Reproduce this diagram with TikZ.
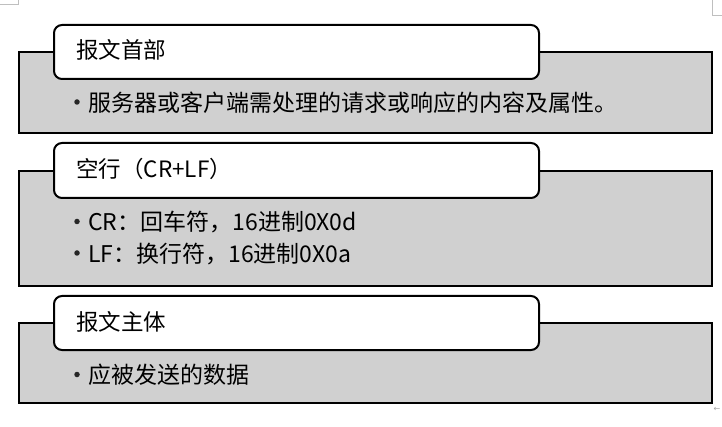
\documentclass[tikz,border=0pt]{standalone}
\usepackage{fontspec}
\setmainfont{Noto Sans CJK SC}
\newfontfamily\symfont{DejaVu Sans}
\begin{document}
\begin{tikzpicture}[x=1pt,y=-1pt,
  greybox/.style={draw=black,line width=2pt,fill=boxgrey,rectangle,anchor=north west,inner sep=0pt},
  hdrbox/.style={draw=black,line width=2pt,fill=white,rectangle,rounded corners=8pt,anchor=north west,inner sep=0pt,minimum width=485pt,minimum height=54pt},
  hdrtext/.style={anchor=west,inner sep=0pt,font=\fontsize{22.5pt}{26pt}\selectfont},
  bodytext/.style={anchor=west,inner sep=0pt,font=\fontsize{23pt}{26pt}\selectfont},
  bul/.style={circle,fill=black!85,inner sep=0pt,minimum size=5.5pt},
  cornermark/.style={draw=gray!50,line width=0.6pt}
]
\definecolor{boxgrey}{RGB}{208,208,208}
\useasboundingbox (0,0) rectangle (722,427);
% corner marks
\draw[cornermark] (18,0) -- (18,4) -- (0,4);
\draw[cornermark] (712,0) -- (712,15) -- (722,15);
\node[anchor=center,inner sep=0pt,text=gray!70,font=\symfont\fontsize{8pt}{9pt}\selectfont] (ret) at (717,409) {←};
% box 1
\node[greybox,minimum width=693pt,minimum height=81pt] (b1) at (18,51) {};
\node[hdrbox] (h1) at (53,24) {};
\node[hdrtext] (t1) at (76,50) {报文首部};
\node[bul] (u1) at (77,102) {};
\node[bodytext] (s1) at (88,103) {服务器或客户端需处理的请求或响应的内容及属性。};
% box 2
\node[greybox,minimum width=693pt,minimum height=115pt] (b2) at (18,170) {};
\node[hdrbox,minimum height=55pt] (h2) at (53,142) {};
\node[hdrtext] (t2) at (76,169) {空行（CR+LF）};
\node[bul] (u2) at (77,221.5) {};
\node[bodytext] (s2) at (88,222) {CR：回车符，16进制0X0d};
\node[bul] (u3) at (77,253) {};
\node[bodytext] (s3) at (88,254) {LF：换行符，16进制0X0a};
% box 3
\node[greybox,minimum width=693pt,minimum height=80pt] (b3) at (18,322) {};
\node[hdrbox] (h3) at (53,295) {};
\node[hdrtext] (t3) at (76,322) {报文主体};
\node[bul] (u4) at (77,374.5) {};
\node[bodytext] (s4) at (88,375) {应被发送的数据};
\end{tikzpicture}
\end{document}
